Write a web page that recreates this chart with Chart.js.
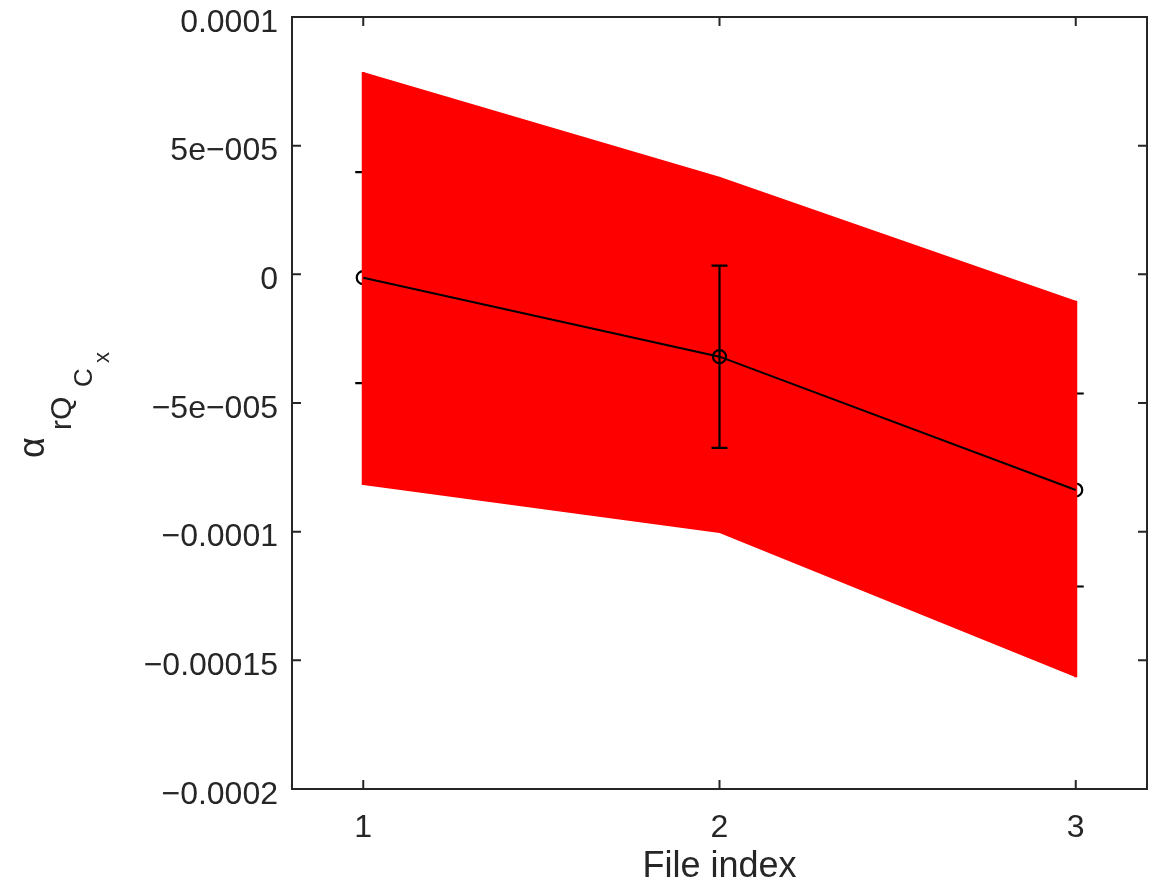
<!DOCTYPE html>
<html>
<head>
<meta charset="utf-8">
<script src="https://cdn.jsdelivr.net/npm/chart.js@4.4.1/dist/chart.umd.min.js"></script>
<style>
  html, body { margin: 0; padding: 0; background: #fff; }
  #wrap { width: 1159px; height: 889px; }
</style>
</head>
<body>
<div id="wrap"><canvas id="myChart" width="1159" height="889"></canvas></div>
<script>
const fileIndex = [1, 2, 3];
const meanVals = [-1.3e-6, -3.2e-5, -8.38e-5];
const errVals = [4.1e-5, 3.54e-5, 3.75e-5];
const bandUpper = [7.86e-5, 3.79e-5, -1.03e-5];
const bandLower = [-8.19e-5, -1.005e-4, -1.566e-4];

const xTicks = [1, 2, 3];
const yTicks = [-0.0002, -0.00015, -0.0001, -0.00005, 0, 0.00005, 0.0001];
const yTickLabels = ["\u22120.0002", "\u22120.00015", "\u22120.0001", "\u22125e\u2212005", "0", "5e\u2212005", "0.0001"];

const INK = "#262626";
const FONT = "'Liberation Sans', Arial, Helvetica, sans-serif";

const ctx = document.getElementById("myChart");

function pts(ys) {
  return fileIndex.map((x, i) => ({ x: x, y: ys[i] }));
}

// error bars + circle markers; the two end points sit under the red band,
// the interior ones are drawn over it
function drawErrorBars(chart, under) {
  const c = chart.ctx;
  const xs = chart.scales.x, ys = chart.scales.y;
  c.save();
  c.strokeStyle = "#000";
  c.lineWidth = 2.2;
  fileIndex.forEach((x, i) => {
    const atEdge = i === 0 || i === fileIndex.length - 1;
    if (atEdge !== under) return;
    const px = xs.getPixelForValue(x);
    const yTop = ys.getPixelForValue(meanVals[i] + errVals[i]);
    const yBot = ys.getPixelForValue(meanVals[i] - errVals[i]);
    const py = ys.getPixelForValue(meanVals[i]);
    c.beginPath();
    c.moveTo(px, yTop); c.lineTo(px, yBot);
    c.moveTo(px - 8, yTop); c.lineTo(px + 8, yTop);
    c.moveTo(px - 8, yBot); c.lineTo(px + 8, yBot);
    c.stroke();
    c.beginPath();
    c.arc(px, py, 6.5, 0, Math.PI * 2);
    c.stroke();
  });
  c.restore();
}

const errorBars = {
  id: "errorBars",
  beforeDatasetsDraw(chart) { drawErrorBars(chart, true); },
  afterDatasetDraw(chart, args) {
    // close off the band's two vertical edges so they cover the end bars
    if (args.index !== 0) return;
    const c = chart.ctx;
    const xs = chart.scales.x, ys = chart.scales.y;
    const last = fileIndex.length - 1;
    c.save();
    c.strokeStyle = "#ff0000";
    c.lineWidth = 3;
    c.beginPath();
    [0, last].forEach(i => {
      const px = xs.getPixelForValue(fileIndex[i]);
      c.moveTo(px, ys.getPixelForValue(bandUpper[i]));
      c.lineTo(px, ys.getPixelForValue(bandLower[i]));
    });
    c.stroke();
    c.restore();
  },
  afterDatasetsDraw(chart) { drawErrorBars(chart, false); }
};

// box around the plot with ticks pointing inwards on all four sides
const boxAxes = {
  id: "boxAxes",
  afterDraw(chart) {
    const c = chart.ctx;
    const a = chart.chartArea;
    const xs = chart.scales.x, ys = chart.scales.y;
    const len = 9;
    c.save();
    c.strokeStyle = INK;
    c.lineWidth = 2;
    c.strokeRect(a.left, a.top, a.right - a.left, a.bottom - a.top);
    c.beginPath();
    xTicks.forEach(v => {
      const p = xs.getPixelForValue(v);
      c.moveTo(p, a.bottom); c.lineTo(p, a.bottom - len);
      c.moveTo(p, a.top); c.lineTo(p, a.top + len);
    });
    yTicks.forEach(v => {
      const p = ys.getPixelForValue(v);
      c.moveTo(a.left, p); c.lineTo(a.left + len, p);
      c.moveTo(a.right, p); c.lineTo(a.right - len, p);
    });
    c.stroke();

    // y label: alpha with nested subscripts, rotated
    c.fillStyle = INK;
    c.rotate(-Math.PI / 2);
    c.textBaseline = "alphabetic";
    c.textAlign = "left";
    const parts = [
      { t: "\u03b1", size: 36, x: 44, y: 458 },
      { t: "rQ", size: 30, x: 71, y: 430 },
      { t: "C", size: 26, x: 92, y: 387 },
      { t: "x", size: 22, x: 109, y: 363 }
    ];
    parts.forEach(p => {
      c.font = p.size + "px " + FONT;
      c.fillText(p.t, -p.y, p.x);
    });
    c.restore();
  }
};

const myChart = new Chart(ctx, {
  type: "line",
  data: {
    datasets: [
      {
        label: "upper",
        data: pts(bandUpper),
        borderColor: "#ff0000",
        borderWidth: 0,
        backgroundColor: "#ff0000",
        pointRadius: 0,
        fill: "+1",
        order: 3
      },
      {
        label: "lower",
        data: pts(bandLower),
        borderColor: "#ff0000",
        borderWidth: 0,
        pointRadius: 0,
        fill: false,
        order: 3
      },
      {
        label: "mean",
        data: pts(meanVals),
        borderColor: "#000",
        borderWidth: 2,
        pointRadius: 0,
        fill: false,
        tension: 0,
        order: 1
      }
    ]
  },
  options: {
    responsive: false,
    animation: false,
    layout: { padding: { top: 17, right: 12, left: 0, bottom: 0 } },
    plugins: {
      legend: { display: false },
      tooltip: { enabled: false }
    },
    scales: {
      x: {
        type: "linear",
        min: 0.8,
        max: 3.2,
        afterBuildTicks: (s) => { s.ticks = xTicks.map(v => ({ value: v })); },
        afterFit: (s) => { s.height = 100; s.paddingLeft = 0; s.paddingRight = 0; },
        grid: { display: false, drawTicks: false },
        border: { display: false },
        ticks: {
          color: INK,
          font: { family: FONT, size: 32 },
          padding: 20,
          callback: (v) => String(v)
        },
        title: {
          display: true,
          text: "File index",
          color: INK,
          font: { family: FONT, size: 36 },
          padding: { top: 0, bottom: 0 }
        }
      },
      y: {
        type: "linear",
        min: -0.0002,
        max: 0.0001,
        afterBuildTicks: (s) => { s.ticks = yTicks.map(v => ({ value: v })); },
        afterFit: (s) => { s.width = 292; s.paddingTop = 0; s.paddingBottom = 0; },
        grid: { display: false, drawTicks: false },
        border: { display: false },
        ticks: {
          color: INK,
          font: { family: FONT, size: 32 },
          padding: 14,
          labelOffset: 6,
          callback: (v, i) => yTickLabels[i]
        }
      }
    }
  },
  plugins: [errorBars, boxAxes]
});
</script>
</body>
</html>
